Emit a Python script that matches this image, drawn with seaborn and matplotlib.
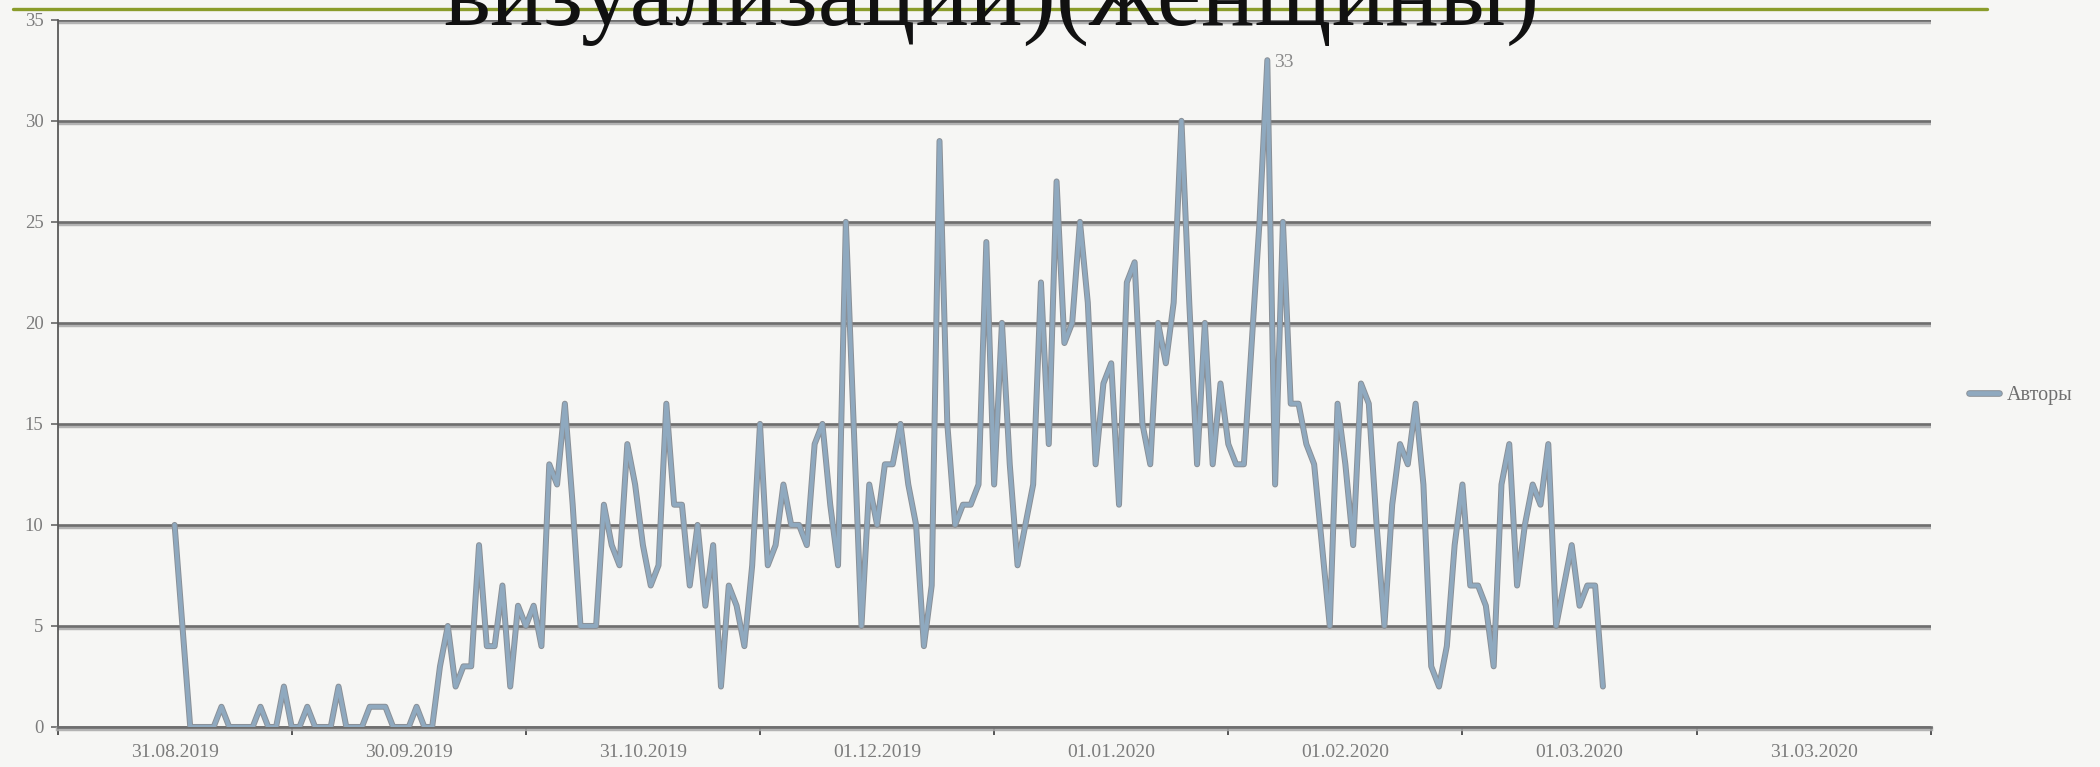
import pandas as pd
import seaborn as sns
import matplotlib.pyplot as plt
import matplotlib.patheffects as pe
from matplotlib.lines import Line2D

# Число авторов по дням (категории оси X идут подряд, от 31.08.2019)
authors = [10, 5, 0, 0, 0, 0, 1, 0, 0, 0,
           0, 1, 0, 0, 2, 0, 0, 1, 0, 0,
           0, 2, 0, 0, 0, 1, 1, 1, 0, 0,
           0, 1, 0, 0, 3, 5, 2, 3, 3, 9,
           4, 4, 7, 2, 6, 5, 6, 4, 13, 12,
           16, 11, 5, 5, 5, 11, 9, 8, 14, 12,
           9, 7, 8, 16, 11, 11, 7, 10, 6, 9,
           2, 7, 6, 4, 8, 15, 8, 9, 12, 10,
           10, 9, 14, 15, 11, 8, 25, 15, 5, 12,
           10, 13, 13, 15, 12, 10, 4, 7, 29, 15,
           10, 11, 11, 12, 24, 12, 20, 13, 8, 10,
           12, 22, 14, 27, 19, 20, 25, 21, 13, 17,
           18, 11, 22, 23, 15, 13, 20, 18, 21, 30,
           21, 13, 20, 13, 17, 14, 13, 13, 19, 25,
           33, 12, 25, 16, 16, 14, 13, 9, 5, 16,
           13, 9, 17, 16, 10, 5, 11, 14, 13, 16,
           12, 3, 2, 4, 9, 12, 7, 7, 6, 3,
           12, 14, 7, 10, 12, 11, 14, 5, 7, 9,
           6, 7, 7, 2]
days = list(range(len(authors)))

# подписи дат (каждая 30-я категория) и границы групп
date_labels = ['31.08.2019', '30.09.2019', '31.10.2019', '01.12.2019',
               '01.01.2020', '01.02.2020', '01.03.2020', '31.03.2020']
label_pos = [0, 30, 60, 90, 120, 150, 180, 210]
group_edges = [-15, 15, 45, 75, 105, 135, 165, 195, 225]
y_ticks = [0, 5, 10, 15, 20, 25, 30, 35]

series_name = 'Авторы'
title = 'визуализации)(женщины)'

df = pd.DataFrame({'day': days, series_name: authors})

sns.set_style('white')
plt.rcParams['font.family'] = ['Liberation Serif', 'DejaVu Serif']

bg = '#f6f6f4'
fig = plt.figure(figsize=(21, 7.67), dpi=100, facecolor=bg)
ax = fig.add_axes([0.0274, 0.0522, 0.892, 0.922], facecolor=bg)

line_color = '#8fa9bf'
edge_color = '#8a9097'
sns.lineplot(data=df, x='day', y=series_name, ax=ax, color=line_color,
             linewidth=2.9, zorder=5, legend=False,
             path_effects=[pe.Stroke(linewidth=4.3, foreground=edge_color), pe.Normal()])

# подпись максимума
peak = authors.index(max(authors))
ax.annotate(str(authors[peak]), xy=(days[peak], authors[peak]), xytext=(5, -2),
            textcoords='offset points', ha='left', va='center',
            fontsize=14, color='#8a8a8a', zorder=6)

ax.set_xlim(group_edges[0], group_edges[-1])
ax.set_ylim(y_ticks[0], y_ticks[-1])

ax.set_yticks(y_ticks)
ax.set_yticklabels([str(v) for v in y_ticks])
ax.set_xticks(group_edges)
ax.set_xticklabels([''] * len(group_edges))
ax.set_xticks(label_pos, minor=True)
ax.set_xticklabels(date_labels, minor=True)

ax.tick_params(axis='x', which='major', direction='out', length=6, width=1.4,
               color='#555555', bottom=True)
ax.tick_params(axis='x', which='minor', length=0, pad=12, labelsize=14,
               labelcolor='#7c7c7c')
ax.tick_params(axis='y', direction='out', length=5, width=1.2, color='#666666',
               left=True, pad=5, labelsize=13.5, labelcolor='#7c7c7c')

ax.set_xlabel('')
ax.set_ylabel('')

# горизонтальные линии сетки с тенью
shadow = [pe.SimpleLineShadow(offset=(0, -1.6), shadow_color='#a8a8a8',
                              alpha=0.85, linewidth=3.2), pe.Normal()]
ax.grid(axis='y', color='#6e6e6e', linewidth=1.9, zorder=1)
ax.set_axisbelow(True)
for gl in ax.get_ygridlines():
    gl.set_path_effects(shadow)

for side in ['top', 'right']:
    ax.spines[side].set_visible(False)
ax.spines['bottom'].set_color('#6e6e6e')
ax.spines['bottom'].set_linewidth(1.9)
ax.spines['bottom'].set_path_effects(shadow)
ax.spines['left'].set_color('#5a5a5a')
ax.spines['left'].set_linewidth(1.3)

# легенда справа
handle = Line2D([0], [0], color=line_color, linewidth=3.4,
                path_effects=[pe.Stroke(linewidth=4.8, foreground=edge_color), pe.Normal()])
fig.legend([handle], [series_name], loc='center left', bbox_to_anchor=(0.929, 0.484),
           frameon=False, fontsize=14.5, labelcolor='#6f6f6f', handlelength=1.5,
           handletextpad=0.4)

# декоративная зелёная линия и обрезанный заголовок слайда
fig.add_artist(Line2D([13 / 2100, 1987 / 2100], [1 - 9 / 767] * 2,
                      color='#8a9c2a', linewidth=2.4, zorder=1))
fig.text(0.472, 1 - 25 / 767, title, ha='center', va='baseline',
         fontsize=72, color='#111111', zorder=3)

plt.savefig('out.png', dpi=100, facecolor=bg)
